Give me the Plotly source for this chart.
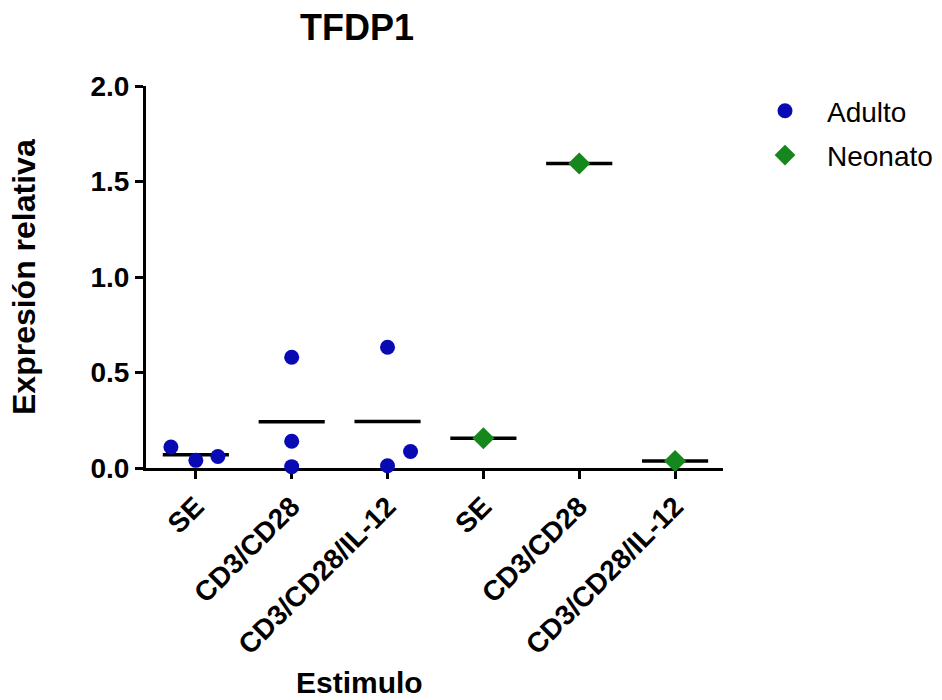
import numpy as np
import plotly.graph_objects as go

# Stimulus categories (two groups of three)
categories = ["SE", "CD3/CD28", "CD3/CD28/IL-12", "SE", "CD3/CD28", "CD3/CD28/IL-12"]

# Relative expression per stimulus
adulto_se = [0.11, 0.04, 0.06]
adulto_cd3cd28 = [0.58, 0.14, 0.007]
adulto_il12 = [0.632, 0.012, 0.086]
neonato_se = [0.156]
neonato_cd3cd28 = [1.594]
neonato_il12 = [0.037]

adulto_groups = [adulto_se, adulto_cd3cd28, adulto_il12]
neonato_groups = [neonato_se, neonato_cd3cd28, neonato_il12]

# horizontal scatter offsets to keep overlapping points apart
adulto_jitter = [[-0.26, 0.0, 0.23], [0.0, 0.0, 0.0], [0.0, 0.0, 0.24]]

BLUE = "#0a0ab4"
GREEN = "#15871c"
FONT = "Arial, Liberation Sans, sans-serif"

fig = go.Figure()

ax, ay = [], []
for i, (vals, jit) in enumerate(zip(adulto_groups, adulto_jitter)):
    for v, j in zip(vals, jit):
        ax.append(i + j)
        ay.append(v)
nx, ny = [], []
for i, vals in enumerate(neonato_groups):
    for v in vals:
        nx.append(i + 3)
        ny.append(v)

# mean lines for each column
half = 0.345
for i, vals in enumerate(adulto_groups + neonato_groups):
    m = float(np.mean(vals))
    fig.add_trace(go.Scatter(x=[i - half, i + half], y=[m, m], mode="lines",
                             line=dict(color="black", width=3.5),
                             showlegend=False, hoverinfo="skip", cliponaxis=False))

fig.add_trace(go.Scatter(x=ax, y=ay, mode="markers", name="Adulto",
                         marker=dict(symbol="circle", size=15, color=BLUE),
                         cliponaxis=False, legendgroup="a"))
fig.add_trace(go.Scatter(x=nx, y=ny, mode="markers", name="Neonato",
                         marker=dict(symbol="diamond", size=17, color=GREEN),
                         cliponaxis=False, legendgroup="n"))

fig.update_layout(
    width=942, height=700,
    margin=dict(l=146, r=219, t=86, b=232, autoexpand=False),
    paper_bgcolor="white", plot_bgcolor="white",
    font=dict(family=FONT, color="black"),
    title=dict(text="<b>TFDP1</b>", x=(357 - 146) / 577, xref="paper", xanchor="center",
               y=1 - 27 / 700, yanchor="middle", font=dict(size=36, family=FONT)),
    legend=dict(x=(743 - 146) / 577, y=1 - (86 - 86) / 382, xanchor="left", yanchor="top",
                font=dict(size=28, family=FONT), tracegroupgap=5, itemwidth=74,
                bgcolor="rgba(0,0,0,0)"),
    showlegend=True,
)

fig.update_xaxes(
    range=[-0.52, 5.5], tickvals=list(range(6)), ticktext=categories,
    tickangle=-45, ticks="outside", ticklen=8, tickwidth=3, tickcolor="black",
    showline=True, linecolor="black", linewidth=3, showgrid=False, zeroline=False,
    tickfont=dict(size=28, family=FONT, weight="bold"), layer="below traces",
)
fig.update_yaxes(
    range=[0, 2.0], tickvals=[0, 0.5, 1.0, 1.5, 2.0],
    ticktext=["0.0", "0.5", "1.0", "1.5", "2.0"],
    ticks="outside", ticklen=8, tickwidth=3, tickcolor="black",
    showline=True, linecolor="black", linewidth=3, showgrid=False, zeroline=False,
    tickfont=dict(size=28, family=FONT, weight="bold"), layer="below traces",
)

# axis titles
fig.add_annotation(text="<b>Expresión relativa</b>", xref="paper", yref="paper",
                   x=(24 - 146) / 577, y=0.5, textangle=-90, showarrow=False,
                   font=dict(size=32, family=FONT), xanchor="center", yanchor="middle")
fig.add_annotation(text="<b>Estimulo</b>", xref="paper", yref="paper",
                   x=(359 - 146) / 577, y=-(683 - 468) / 382, showarrow=False,
                   font=dict(size=30, family=FONT), xanchor="center", yanchor="middle")

fig.write_html("out.html")
